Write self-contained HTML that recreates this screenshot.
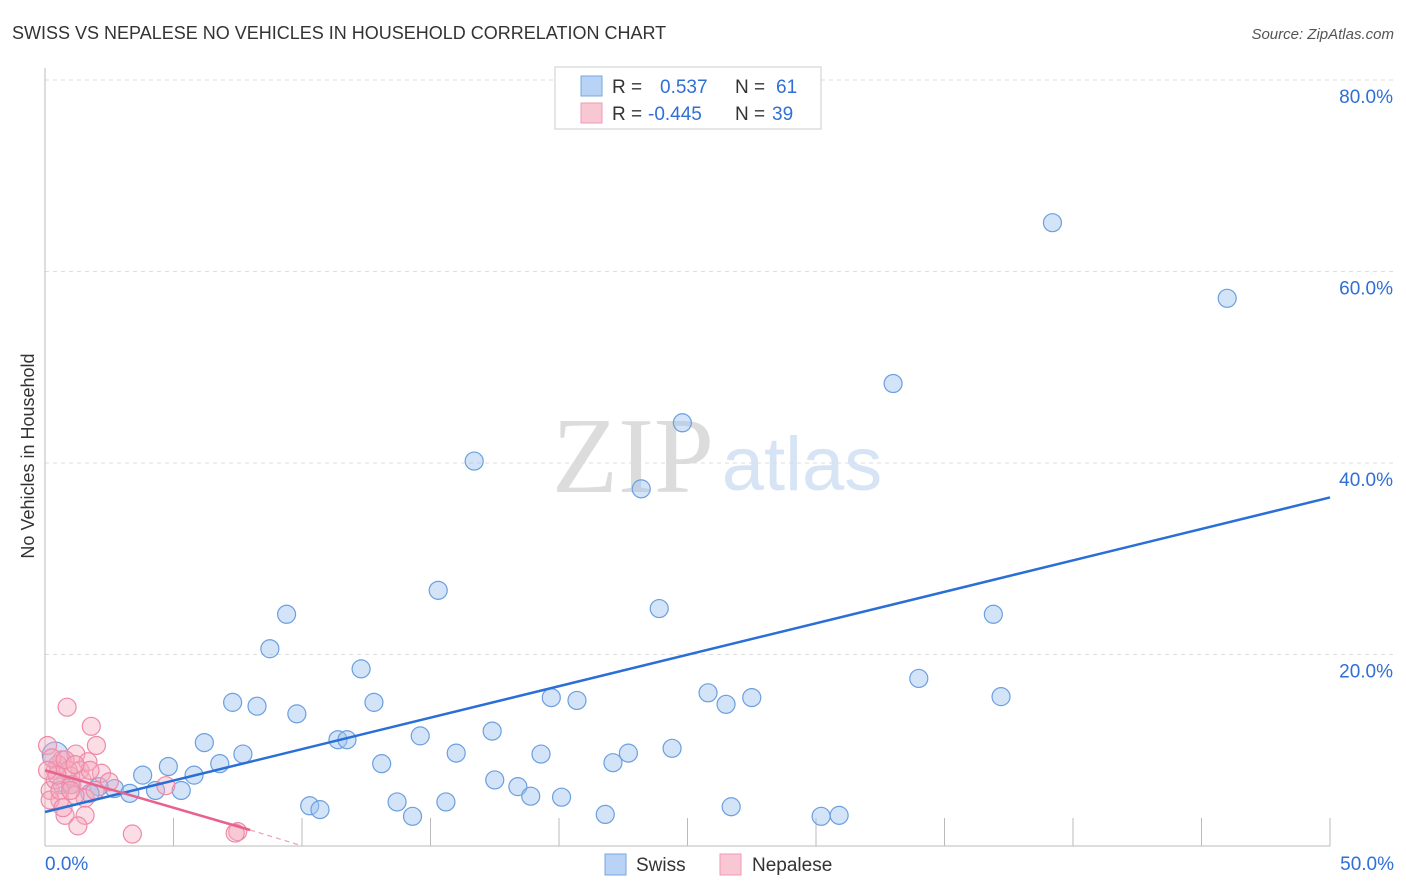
<!DOCTYPE html>
<html><head><meta charset="utf-8">
<style>
body{margin:0;background:#fff;font-family:"Liberation Sans",sans-serif;}
#wrap{position:relative;width:1406px;height:892px;overflow:hidden;}
</style></head>
<body>
<div id="wrap">
<svg id="svg" width="1406" height="892">
<text x="12" y="39" font-size="18" fill="#333">SWISS VS NEPALESE NO VEHICLES IN HOUSEHOLD CORRELATION CHART</text>
<text x="1394" y="39" font-size="15" fill="#555" font-style="italic" text-anchor="end">Source: ZipAtlas.com</text>
<text x="633" y="492" font-size="108" fill="#dcdcdc" font-family="Liberation Serif,serif" text-anchor="middle">ZIP</text>
<text x="802" y="490" font-size="76" fill="#d6e4f5" text-anchor="middle">atlas</text>
<text transform="translate(34,456) rotate(-90)" font-size="18" fill="#333" text-anchor="middle">No Vehicles in Household</text>
<g id="grid"></g><g id="pts"></g><g id="lines"></g>
<g>
<rect x="555" y="67" width="266" height="62" fill="#fff" stroke="#ccc"/>
<rect x="581" y="76" width="21" height="20" fill="#b8d3f5" stroke="#7aa7e0"/>
<rect x="581" y="103" width="21" height="20" fill="#f9c6d4" stroke="#ee9ab4"/>
<text x="612" y="93" font-size="19" fill="#333">R =</text>
<text x="660" y="93" font-size="19" fill="#2f6fd6">0.537</text>
<text x="735" y="93" font-size="19" fill="#333">N =</text>
<text x="776" y="93" font-size="19" fill="#2f6fd6">61</text>
<text x="612" y="120" font-size="19" fill="#333">R =</text>
<text x="648" y="120" font-size="19" fill="#2f6fd6">-0.445</text>
<text x="735" y="120" font-size="19" fill="#333">N =</text>
<text x="772" y="120" font-size="19" fill="#2f6fd6">39</text>
</g>
<g>
<rect x="605" y="854" width="21" height="21" fill="#b8d3f5" stroke="#7aa7e0"/>
<text x="636" y="871" font-size="19" fill="#333">Swiss</text>
<rect x="720" y="854" width="21" height="21" fill="#f9c6d4" stroke="#ee9ab4"/>
<text x="752" y="871" font-size="19" fill="#333">Nepalese</text>
</g>
</svg>
</div>
<script>
const yTicks=[20,40,60,80];
const yTickLabels=["20.0%","40.0%","60.0%","80.0%"];
const xTickVals=[0,5,10,15,20,25,30,35,40,45,50];
const xEndLabels=["0.0%","50.0%"];
const swissX=[39.2,46.0,33.0,24.8,16.7,23.2,15.3,23.9,36.9,9.4,8.75,12.3,34.0,25.8,37.2,19.7,20.7,27.5,26.5,7.3,8.25,12.8,9.8,17.4,6.2,11.4,11.75,14.6,7.7,16.0,22.7,24.4,19.3,6.8,13.1,22.1,4.8,3.8,5.8,17.5,18.4,10.3,10.7,13.7,15.6,18.9,20.1,26.7,21.8,14.3,30.2,30.9,2.7,3.3,4.3,5.3,2.1,1.75,0.66,0.4,1.0];
const swissY=[65.1,57.2,48.3,44.2,40.2,37.3,26.7,24.8,24.2,24.2,20.6,18.5,17.5,16.0,15.6,15.5,15.2,15.5,14.8,15.0,14.6,15.0,13.8,12.0,10.8,11.1,11.1,11.5,9.6,9.7,9.7,10.2,9.6,8.6,8.6,8.7,8.3,7.4,7.4,6.9,6.2,4.2,3.8,4.6,4.6,5.2,5.1,4.1,3.3,3.1,3.1,3.2,6.0,5.5,5.8,5.8,6.2,5.5,6.4,9.5,6.4];
const nepX=[0.86,1.8,2.0,0.1,1.2,0.66,2.2,1.36,0.4,1.0,2.5,4.7,0.2,1.56,0.58,0.78,1.56,1.28,3.4,7.5,7.4,0.4,1.05,0.5,0.9,1.67,0.2,1.95,1.17,0.58,0.27,0.78,1.44,1.75,0.47,0.7,1.0,1.17,0.1];
const nepY=[14.5,12.5,10.5,10.5,9.6,9.0,7.6,7.9,7.9,7.3,6.7,6.3,5.8,5.0,4.8,3.2,3.2,2.1,1.25,1.5,1.35,6.9,6.4,8.5,7.9,8.8,4.8,5.8,5.3,5.8,9.2,9.0,6.9,7.9,7.4,4.0,5.8,8.5,7.9];
const swissLine=[3.55,36.4];
const nepLine=[7.9,1.67,0.1];
const nepLineX=[0,7.98,9.9];

const X=v=>45+v*25.7, Y=v=>846-v*9.575;
const NS="http://www.w3.org/2000/svg";
function mk(tag,attrs,parent){const e=document.createElementNS(NS,tag);for(const k in attrs)e.setAttribute(k,attrs[k]);parent.appendChild(e);return e;}
const grid=document.getElementById('grid'),pts=document.getElementById('pts'),lines=document.getElementById('lines');
yTicks.forEach((t,i)=>{
 const l=mk('line',{x1:45,x2:1395,y1:Y(t),y2:Y(t),stroke:'#ddd','stroke-dasharray':'4,4'},grid);
 
 
 const tx=mk('text',{x:1393,y:Y(t)+23,'font-size':19,fill:'#2f6fd6','text-anchor':'end'},grid);
 tx.textContent=yTickLabels[i];
 
 
});
const ax=mk('line',{x1:45,x2:45,y1:68,y2:846,stroke:'#bbb'},grid);


const bx=mk('line',{x1:45,x2:1330,y1:846,y2:846,stroke:'#bbb'},grid);


xTickVals.forEach(v=>{
 const t=mk('line',{x1:X(v),x2:X(v),y1:818,y2:846,stroke:'#bbb'},grid);
 
 
});
[[0,'start',45],[50,'end',1394]].forEach((a,i)=>{
 const t=mk('text',{x:a[2],y:870,'font-size':19,fill:'#2f6fd6','text-anchor':a[1]},grid);
 t.textContent=xEndLabels[i];
 
 
});
swissX.forEach((v,i)=>{
 const c=mk('circle',{cx:X(v),cy:Y(swissY[i]),r:i==59?13:9,fill:'rgba(160,196,240,0.45)',stroke:'#6a9fe0','stroke-width':1.2},pts);
 
 
});
nepX.forEach((v,i)=>{
 const c=mk('circle',{cx:X(v),cy:Y(nepY[i]),r:9,fill:'rgba(245,170,190,0.4)',stroke:'#ee8aa8','stroke-width':1.2},pts);
 
 
});
const sl=mk('line',{x1:X(0),y1:Y(swissLine[0]),x2:X(50),y2:Y(swissLine[1]),stroke:'#2a6fd6','stroke-width':2.5},lines);


const nl=mk('line',{x1:X(nepLineX[0]),y1:Y(nepLine[0]),x2:X(nepLineX[1]),y2:Y(nepLine[1]),stroke:'#e8628c','stroke-width':2.5},lines);


const nd=mk('line',{x1:X(nepLineX[1]),y1:Y(nepLine[1]),x2:X(nepLineX[2]),y2:Y(nepLine[2]),stroke:'#eea0b8','stroke-width':1.2,'stroke-dasharray':'5,4'},lines);


</script>
</body></html>
